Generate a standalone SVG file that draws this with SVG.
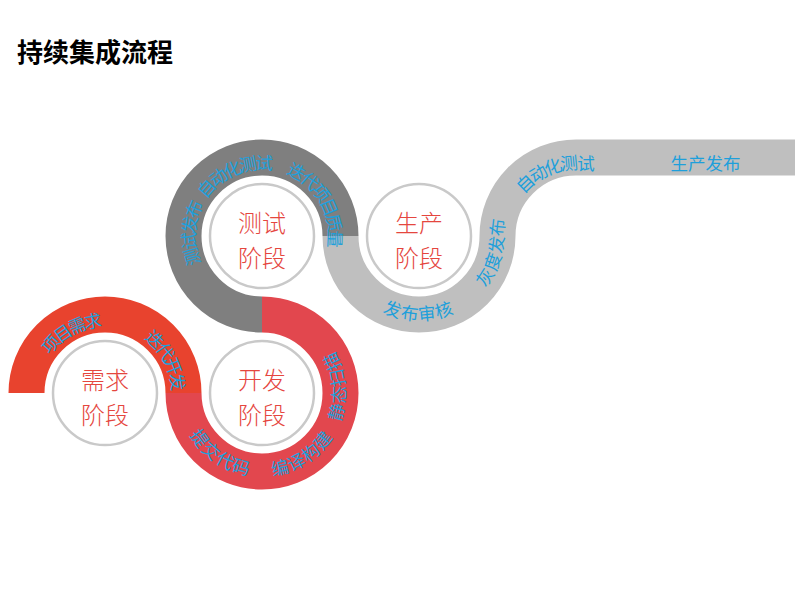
<svg xmlns="http://www.w3.org/2000/svg" xmlns:xlink="http://www.w3.org/1999/xlink" width="800" height="600" viewBox="0 0 800 600">
<style>
.band{fill:none;stroke-width:36;stroke-linecap:butt}
.ring{fill:#fff;stroke:#C9C9C9;stroke-width:2.5}
.ct{font-family:"Noto Sans CJK SC","Noto Sans",sans-serif;font-size:24px;font-weight:300;fill:#E5463E;text-anchor:middle}
.lb{font-family:"Noto Sans CJK SC","Noto Sans",sans-serif;font-size:17.5px;fill:#1E9FDB;text-anchor:middle;dominant-baseline:central}
.title{font-family:"Noto Sans CJK SC","Noto Sans",sans-serif;font-size:26px;font-weight:700;fill:#000}
</style>
<defs>
<path id="p1" d="M 26.5 393 A 78.5 78.5 0 0 1 183.5 393"/>
<path id="p2" d="M 183.5 393 A 78.5 78.5 0 1 0 262 314.5"/>
<path id="p3" d="M 262 314.5 A 78.5 78.5 0 1 1 340.5 236 A 78.5 78.5 0 0 1 330 275.25"/>
<path id="p4" d="M 340.5 236 A 78.5 78.5 0 0 0 497.5 236 A 78.5 78.5 0 0 1 576 157.5 L 795 157.5"/>
</defs>
<rect width="800" height="600" fill="#fff"/>
<text class="title" x="17" y="62">持续集成流程</text>
<g id="connectors">
<path class="band" stroke="#E8432E" d="M 26.5 393 A 78.5 78.5 0 0 1 183.5 393"/>
<path class="band" stroke="#E2474E" d="M 183.5 393 A 78.5 78.5 0 1 0 262 314.5"/>
<path class="band" stroke="#7F7F7F" d="M 262 314.5 A 78.5 78.5 0 1 1 340.5 236"/>
<path class="band" stroke="#BFBFBF" d="M 340.5 236 A 78.5 78.5 0 0 0 497.5 236 A 78.5 78.5 0 0 1 576 157.5 L 795 157.5"/>
</g>
<g id="node-xuqiu">
<circle class="ring" cx="105" cy="393" r="52"/>
<text class="ct" x="105" y="389">需求</text>
<text class="ct" x="105" y="424">阶段</text>
</g>
<g id="node-kaifa">
<circle class="ring" cx="262" cy="393" r="52"/>
<text class="ct" x="262" y="389">开发</text>
<text class="ct" x="262" y="424">阶段</text>
</g>
<g id="node-ceshi">
<circle class="ring" cx="262" cy="236" r="52"/>
<text class="ct" x="262" y="232">测试</text>
<text class="ct" x="262" y="267">阶段</text>
</g>
<g id="node-shengchan">
<circle class="ring" cx="419" cy="236" r="52"/>
<text class="ct" x="419" y="232">生产</text>
<text class="ct" x="419" y="267">阶段</text>
</g>
<g id="labels">
<text class="lb" dy="4"><textPath xlink:href="#p1" href="#p1" startOffset="83.6">项目需求</textPath></text>
<text class="lb" dy="4"><textPath xlink:href="#p1" href="#p1" startOffset="208">迭代开发</textPath></text>
<text class="lb" dy="-3"><textPath xlink:href="#p2" href="#p2" startOffset="75.4">提交代码</textPath></text>
<text class="lb" dy="-3"><textPath xlink:href="#p2" href="#p2" startOffset="168">编译构建</textPath></text>
<text class="lb" dy="-3"><textPath xlink:href="#p2" href="#p2" startOffset="253">静态扫描</textPath></text>
<text class="lb" dy="4"><textPath xlink:href="#p3" href="#p3" startOffset="126.6">测试发布</textPath></text>
<text class="lb" dy="4"><textPath xlink:href="#p3" href="#p3" startOffset="213.7">自动化测试</textPath></text>
<text class="lb" dy="4"><textPath xlink:href="#p3" href="#p3" startOffset="328.8">迭代项目质量</textPath></text>
<text class="lb" dy="-2"><textPath xlink:href="#p4" href="#p4" startOffset="122.3">发布审核</textPath></text>
<text class="lb" dy="-2"><textPath xlink:href="#p4" href="#p4" startOffset="228.8">灰度发布</textPath></text>
<text class="lb" dy="4"><textPath xlink:href="#p4" href="#p4" startOffset="344.3">自动化测试</textPath></text>
<text class="lb" dy="4"><textPath xlink:href="#p4" href="#p4" startOffset="498.9">生产发布</textPath></text>
</g>
</svg>
